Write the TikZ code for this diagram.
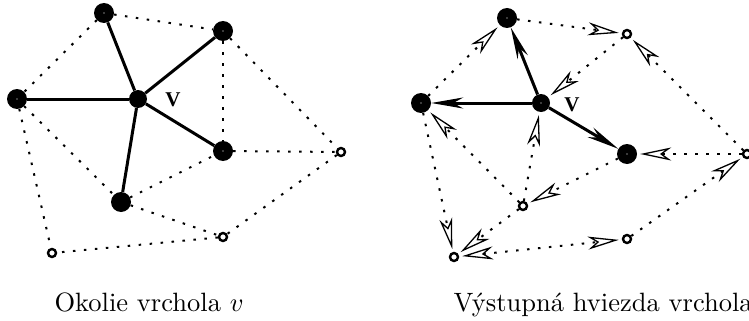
\RequirePackage{fix-cm}
\documentclass[tikz,border=0pt]{standalone}
\usepackage{fontspec}
\newfontfamily\labelfont{Liberation Serif}
\usetikzlibrary{arrows.meta}
\begin{document}
\begin{tikzpicture}[x=1pt,y=-1pt,
  big/.style={circle,fill=black,inner sep=0pt,minimum size=20pt},
  speck/.style={path picture={\fill[white] (path picture bounding box.center) circle (0.7pt);}},
  small/.style={circle,draw=black,fill=white,line width=2.4pt,inner sep=0pt,minimum size=8pt},
  edge/.style={line width=3pt},
  dots/.style={line width=2pt,dash pattern=on 2.5pt off 8.5pt},
  ohead/.tip={Stealth[open,fill=white,length=31pt,width=13pt,inset=9pt,line width=1.3pt]},
  oarrow/.style={dots,-ohead,shorten >=3pt},
  obiarrow/.style={dots,ohead-ohead,shorten >=3pt,shorten <=3pt},
  sarrow/.style={edge,-{Stealth[length=32pt,width=11pt,inset=10pt]}},
  vlabel/.style={font=\labelfont\bfseries\fontsize{21}{21}\selectfont,inner sep=0pt},
  caption/.style={font=\fontsize{10}{12}\selectfont,scale=2.65,transform shape,
    anchor=base west,inner sep=0pt}
]
\useasboundingbox (0,0) rectangle (749,321);

% ---- neighbourhood of v ----
\node[big,speck] (A) at (104,13) {};
\node[big,speck] (B) at (223,31) {};
\node[big,speck] (L) at (17,99) {};
\node[big,minimum size=18pt] (V) at (138,99) {};
\node[big,speck] (D) at (223,151) {};
\node[big] (E) at (121,202) {};
\node[small] (F) at (341,152) {};
\node[small] (G) at (223,237) {};
\node[small] (H) at (52,253) {};
\node[vlabel] (vl) at (173,100) {V};

\foreach \u/\w in {A/B,A/L,B/D,B/F,L/E,L/H,E/D,E/G,D/F,F/G,G/H}
  \draw[dots] (\u) -- (\w);
\foreach \w in {A,B,L,D,E}
  \draw[edge] (V) -- (\w);

% ---- out-star of v ----
\node[big,speck] (A2) at (507,18) {};
\node[small] (B2) at (627,34) {};
\node[big,speck] (L2) at (421,103) {};
\node[big,speck,minimum size=18pt] (V2) at (541,103) {};
\node[big,speck] (D2) at (627,154) {};
\node[small] (E2) at (523,206) {};
\node[small] (F2) at (747,154) {};
\node[small] (G2) at (627,239) {};
\node[small] (H2) at (454,257) {};
\node[vlabel] (vl2) at (572,105) {V};

\foreach \u/\w in {L2/A2,A2/B2,B2/V2,F2/B2,F2/D2,G2/F2,E2/V2,E2/L2,D2/E2,L2/H2,E2/H2}
  \draw[oarrow] (\u) -- (\w);
\draw[obiarrow] (H2) -- (G2);
\foreach \w in {A2,L2,D2}
  \draw[sarrow] (V2) -- (\w);

% ---- captions ----
\node[caption] (c1) at (54,311.7) {Okolie vrchola $v$};
\node[caption] (c2) at (453,311.7) {Výstupná hviezda vrchola};
\end{tikzpicture}
\end{document}
